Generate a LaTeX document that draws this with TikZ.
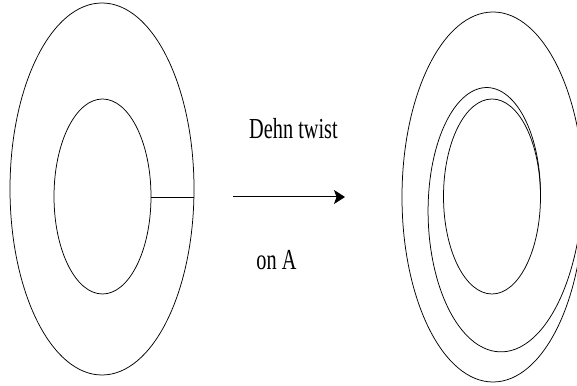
\documentclass[tikz,border=0pt]{standalone}
\usepackage{fontspec}
\setmainfont{Liberation Serif}
\newfontfamily\twistfont[FakeStretch=0.7]{Liberation Serif}
\usetikzlibrary{arrows.meta}

\begin{document}
\begin{tikzpicture}[x=1pt, y=1pt,
    curve/.style={line width=0.75pt},
    maplabel/.style={font=\twistfont\fontsize{29}{34}\selectfont, inner sep=0pt, anchor=base},
    maparrow/.style={line width=1pt, -{Stealth[length=11pt, width=14pt, inset=2.5pt]}}]
  \path[use as bounding box, clip] (0,0) rectangle (577,385);

  % annulus with the arc A
  \draw[curve] (102,196) ellipse [x radius=92, y radius=186];
  \draw[curve] (102.5,188.5) ellipse [x radius=48.5, y radius=97.5];
  \coordinate (arcin) at (151,188);
  \coordinate (arcout) at (194,188);
  \draw[line width=0.9pt] (arcin) -- (arcout);

  % the map
  \coordinate (start) at (233,188);
  \coordinate (end) at (345,188);
  \draw[maparrow] (start) -- (end);
  \node[maplabel] (twist) at (293.5,246) {Dehn twist};
  \node[maplabel] (onA) at (276.5,115) {on A};

  % twisted annulus
  \draw[curve] (493,188) ellipse [x radius=91, y radius=185];
  \draw[curve] (492,188.5) ellipse [x radius=48.5, y radius=97.5];
  \draw[curve] plot[domain=0:360, samples=120, smooth, variable=\t]
    ({492 + (48.5 + 42.5*(\t/360)*sqrt(\t/360))*cos(\t)},
     {188.5 + (97.5 + 87.5*(\t/360)*sqrt(\t/360))*sin(\t)});
\end{tikzpicture}
\end{document}
